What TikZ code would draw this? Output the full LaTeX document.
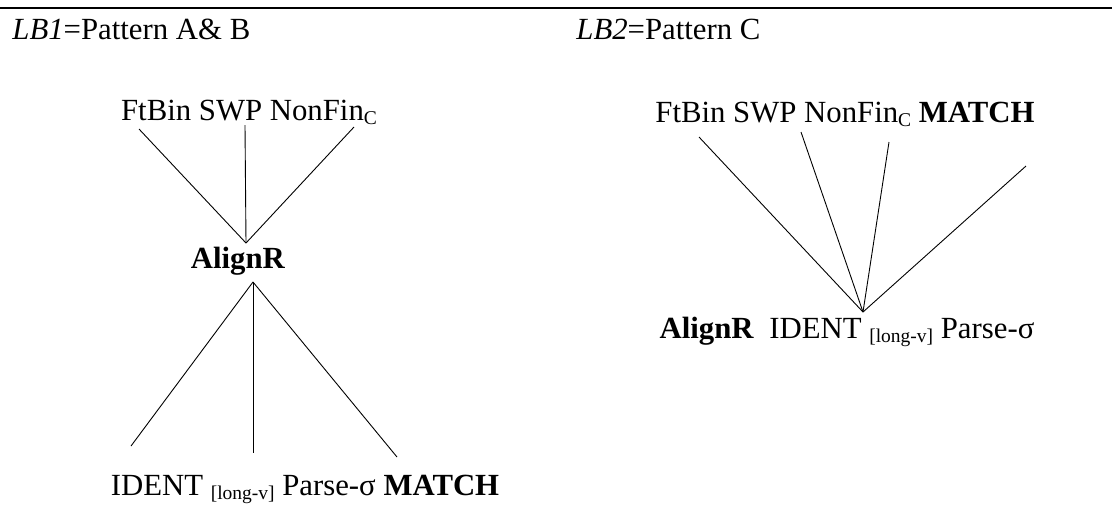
\documentclass[tikz,border=0pt]{standalone}
\usepackage{fontspec}
\setmainfont{Liberation Serif}
\newcommand{\lowsub}[1]{\raisebox{-0.35ex}{\fontsize{7.6}{8}\selectfont #1}}
\begin{document}
\begin{tikzpicture}[x=0.39pt, y=-0.39pt, font=\fontsize{12}{14}\selectfont, every node/.style={inner sep=0pt}, line width=0.35pt]
	\useasboundingbox (0,0) rectangle (1112,504);
	\draw [line width=0.8pt] (0,8) -- (1112,8);
	\node [anchor=base west] (lbone) at (12,39) {\textit{LB1}=Pattern A\& B};
	\node [anchor=base west] (lbtwo) at (576,39) {\textit{LB2}=Pattern C};
	\node [anchor=base] (ltop) at (249,120) {FtBin SWP NonFin\lowsub{C}};
	\node [anchor=base] (lmid) at (238,268) {\textbf{AlignR}};
	\node [anchor=base] (lbot) at (305,495) {IDENT \lowsub{[long-v]} Parse-σ \textbf{MATCH}};
	\node [anchor=base] (rtop) at (845,122) {FtBin SWP NonFin\lowsub{C} \textbf{MATCH}};
	\node [anchor=base] (rbot) at (847,338) {\textbf{AlignR}\ \ IDENT \lowsub{[long-v]} Parse-σ};
	\coordinate (la) at (139,129);
	\coordinate (lb) at (245,125);
	\coordinate (lc) at (354,127);
	\coordinate (lup) at (246,243);
	\coordinate (ldown) at (253,282);
	\coordinate (ld) at (131,446);
	\coordinate (le) at (253,453);
	\coordinate (lf) at (397,457);
	\coordinate (ra) at (699,137);
	\coordinate (rb) at (801,132);
	\coordinate (rc) at (889,142);
	\coordinate (rd) at (1026,166);
	\coordinate (rup) at (863,312);
	\draw (la) -- (lup);
	\draw (lb) -- (lup);
	\draw (lc) -- (lup);
	\draw (ldown) -- (ld);
	\draw (ldown) -- (le);
	\draw (ldown) -- (lf);
	\draw (ra) -- (rup);
	\draw (rb) -- (rup);
	\draw (rc) -- (rup);
	\draw (rd) -- (rup);
\end{tikzpicture}
\end{document}
